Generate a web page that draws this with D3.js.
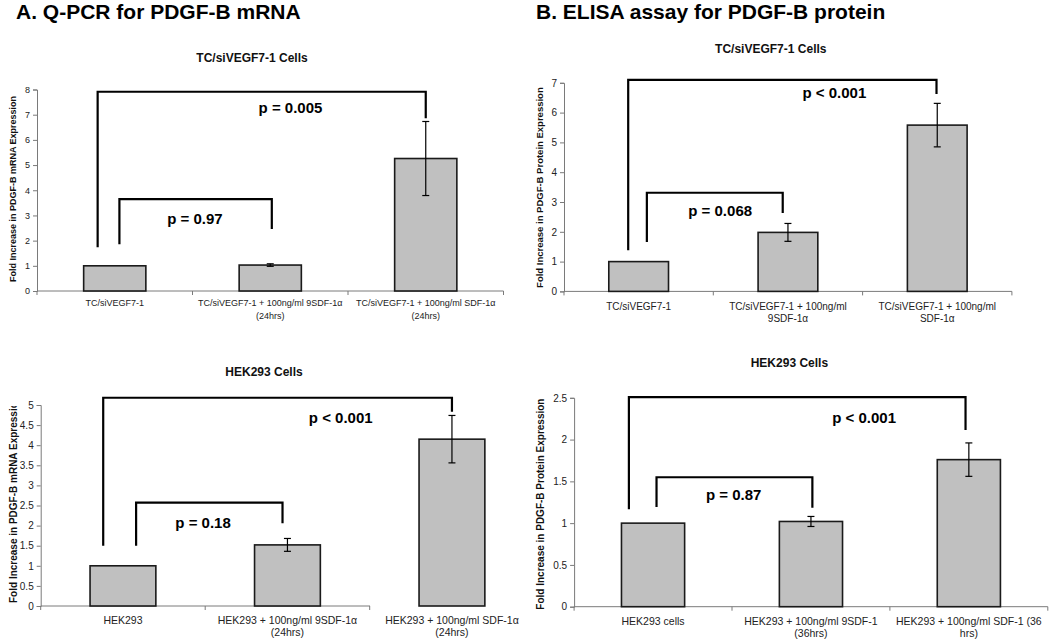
<!DOCTYPE html>
<html><head><meta charset="utf-8">
<script src="https://cdnjs.cloudflare.com/ajax/libs/d3/7.8.5/d3.min.js"></script>
<style>
html,body{margin:0;padding:0;background:#fff;}
svg{display:block;font-family:"Liberation Sans",Arial,Helvetica,sans-serif;}
</style></head>
<body>
<svg id="chart" width="1050" height="639"></svg>
<script>
// ---------- DATA ----------
const panelTitles = ["A. Q-PCR for PDGF-B mRNA", "B. ELISA assay for PDGF-B protein"];

const subtitleA1 = "TC/siVEGF7-1 Cells";
const categoriesA1 = ["TC/siVEGF7-1", "TC/siVEGF7-1 + 100ng/ml 9SDF-1α\n(24hrs)", "TC/siVEGF7-1 + 100ng/ml SDF-1α\n(24hrs)"];
const valuesA1 = [1.00, 1.03, 5.26];
const errorsA1 = [0, 0.05, 1.47];
const yTicksA1 = [0, 1, 2, 3, 4, 5, 6, 7, 8];
const yLabelA1 = "Fold Increase in PDGF-B mRNA Expression";
const pLabelsA1 = ["p = 0.005", "p = 0.97"];

const subtitleA2 = "HEK293 Cells";
const categoriesA2 = ["HEK293", "HEK293 + 100ng/ml 9SDF-1α\n(24hrs)", "HEK293 + 100ng/ml SDF-1α\n(24hrs)"];
const valuesA2 = [1.00, 1.52, 4.15];
const errorsA2 = [0, 0.16, 0.59];
const yTicksA2 = [0, 0.5, 1, 1.5, 2, 2.5, 3, 3.5, 4, 4.5, 5];
const yLabelA2 = "Fold Increase in PDGF-B mRNA Expression";
const pLabelsA2 = ["p < 0.001", "p = 0.18"];

const subtitleB1 = "TC/siVEGF7-1 Cells";
const categoriesB1 = ["TC/siVEGF7-1", "TC/siVEGF7-1 + 100ng/ml\n9SDF-1α", "TC/siVEGF7-1 + 100ng/ml\nSDF-1α"];
const valuesB1 = [1.00, 1.98, 5.58];
const errorsB1 = [0, 0.30, 0.73];
const yTicksB1 = [0, 1, 2, 3, 4, 5, 6, 7];
const yLabelB1 = "Fold Increase in PDGF-B Protein Expression";
const pLabelsB1 = ["p < 0.001", "p = 0.068"];

const subtitleB2 = "HEK293 Cells";
const categoriesB2 = ["HEK293 cells", "HEK293 + 100ng/ml 9SDF-1\n(36hrs)", "HEK293 + 100ng/ml SDF-1 (36\nhrs)"];
const valuesB2 = [1.00, 1.02, 1.76];
const errorsB2 = [0, 0.06, 0.20];
const yTicksB2 = [0, 0.5, 1, 1.5, 2, 2.5];
const yLabelB2 = "Fold Increase in PDGF-B Protein Expression";
const pLabelsB2 = ["p < 0.001", "p = 0.87"];

// significance brackets: [xLeft, xRight, yTop, yLeftEnd, yRightEnd] in (category units, value units)
const bracketsA1 = [[0.39, 2.50, 7.91, 1.74, 6.86], [0.53, 1.51, 3.65, 1.86, 2.46]];
const bracketsA2 = [[0.38, 2.50, 5.18, 1.50, 4.83], [0.58, 1.47, 2.57, 1.50, 2.06]];
const bracketsB1 = [[0.43, 2.495, 7.10, 1.38, 6.62], [0.555, 1.465, 3.31, 1.66, 2.63]];
const bracketsB2 = [[0.347, 2.479, 2.507, 1.165, 2.115], [0.522, 1.509, 1.549, 1.193, 1.185]];
// p-label positions [x in category units, y in value units]
const pPosA1 = [[1.63, 7.29], [1.016, 2.85]];
const pPosA2 = [[1.824, 4.68], [0.987, 2.06]];
const pPosB1 = [[1.811, 6.68], [1.046, 2.72]];
const pPosB2 = [[1.837, 2.257], [1.011, 1.338]];

// ---------- DRAW ----------
const svg = d3.select("#chart");

svg.append("text").attr("x", 16).attr("y", 19).attr("font-size", 21).attr("font-weight", "bold").attr("fill", "#000").text(panelTitles[0]);
svg.append("text").attr("x", 536).attr("y", 19).attr("font-size", 21).attr("font-weight", "bold").attr("fill", "#000").text(panelTitles[1]);

function drawPanel(c) {
  const g = svg.append("g");
  const n = c.cats.length;
  const x = d3.scaleBand().domain(d3.range(n)).range([c.x0, c.x1]).paddingInner(0.6).paddingOuter(0.3);
  const xc = d3.scaleLinear().domain([0, n]).range([c.x0, c.x1]);
  const yMax = c.ticks[c.ticks.length - 1];
  const y = d3.scaleLinear().domain([0, yMax]).range([c.y0, c.yTop]);

  // subtitle
  g.append("text").attr("x", c.subX).attr("y", c.subY).attr("dy", "0.35em").attr("text-anchor", "middle")
    .attr("font-size", 12).attr("font-weight", "bold").attr("fill", "#111").text(c.sub);

  // y axis
  const yAxis = d3.axisLeft(y).tickValues(c.ticks).tickSize(4).tickPadding(3).tickFormat(d3.format("~g"));
  const ya = g.append("g").attr("transform", `translate(${c.x0},0)`).call(yAxis);
  ya.select(".domain").attr("stroke", "#7a7a7a");
  ya.selectAll(".tick line").attr("stroke", "#7a7a7a");
  ya.selectAll(".tick text").attr("font-size", c.tickFs).attr("fill", "#222").attr("font-family", "Liberation Sans, Arial, sans-serif");

  // x axis line with ticks at band boundaries
  const xEndLine = c.xLineEnd != null ? c.xLineEnd : c.x1;
  g.append("line").attr("x1", c.x0).attr("x2", xEndLine).attr("y1", c.y0).attr("y2", c.y0).attr("stroke", "#7a7a7a");
  const bounds = d3.range(0, n + 1).filter(i => xc(i) <= xEndLine + 0.5);
  g.selectAll(".xt").data(bounds).join("line")
    .attr("x1", d => xc(d)).attr("x2", d => xc(d)).attr("y1", c.y0).attr("y2", c.y0 + 4).attr("stroke", "#7a7a7a");

  // x labels
  c.cats.forEach((lab, i) => {
    const t = g.append("text").attr("text-anchor", "middle").attr("font-size", c.xFs).attr("fill", "#222");
    lab.split("\n").forEach((ln, k) => {
      t.append("tspan").attr("x", x(i) + x.bandwidth() / 2).attr("y", c.y0 + c.xLabDy + k * c.xLabLh).attr("dy", "0.35em").text(ln);
    });
  });

  // bars
  g.selectAll(".bar").data(c.vals).join("rect")
    .attr("x", (d, i) => x(i)).attr("width", x.bandwidth())
    .attr("y", d => y(d)).attr("height", d => c.y0 - y(d))
    .attr("fill", "#c0c0c0").attr("stroke", "#1a1a1a").attr("stroke-width", 1.6);

  // error bars
  c.vals.forEach((v, i) => {
    const e = c.errs[i];
    if (!e) return;
    const cx = x(i) + x.bandwidth() / 2;
    g.append("line").attr("x1", cx).attr("x2", cx).attr("y1", y(v + e)).attr("y2", y(v - e)).attr("stroke", "#000").attr("stroke-width", 1.2);
    [v + e, v - e].forEach(w => {
      g.append("line").attr("x1", cx - 3.5).attr("x2", cx + 3.5).attr("y1", y(w)).attr("y2", y(w)).attr("stroke", "#000").attr("stroke-width", 1.2);
    });
  });

  // brackets
  c.brackets.forEach(b => {
    const path = d3.path();
    path.moveTo(xc(b[0]), y(b[3]));
    path.lineTo(xc(b[0]), y(b[2]));
    path.lineTo(xc(b[1]), y(b[2]));
    path.lineTo(xc(b[1]), y(b[4]));
    g.append("path").attr("d", path.toString()).attr("fill", "none").attr("stroke", "#000").attr("stroke-width", 2.2);
  });

  // p labels
  c.pLabels.forEach((p, i) => {
    g.append("text").attr("x", xc(c.pPos[i][0])).attr("y", y(c.pPos[i][1])).attr("dy", "0.35em")
      .attr("text-anchor", "middle").attr("font-size", 15).attr("font-weight", "bold").attr("fill", "#000").text(p);
  });

  // y label
  const clipId = "clip" + Math.round(c.x0);
  svg.append("clipPath").attr("id", clipId).append("rect").attr("x", c.ylX - 20).attr("y", c.ylClipTop).attr("width", 40).attr("height", 639 - c.ylClipTop);
  const yl = g.append("g").attr("clip-path", `url(#${clipId})`);
  yl.append("text").attr("transform", `translate(${c.ylX},${c.ylY}) rotate(-90)`)
    .attr("text-anchor", c.ylAnchor).attr("dy", "0.35em").attr("font-size", c.ylFs).attr("font-weight", "bold").attr("fill", "#111").text(c.yl);
}

drawPanel({cats: categoriesA1, vals: valuesA1, errs: errorsA1, ticks: yTicksA1, sub: subtitleA1, yl: yLabelA1,
  brackets: bracketsA1, pLabels: pLabelsA1, pPos: pPosA1,
  x0: 37, x1: 503.5, y0: 291, yTop: 89.5, subX: 252, subY: 58, tickFs: 9, xFs: 9, xLabDy: 12, xLabLh: 12.5,
  ylX: 13, ylY: 189, ylAnchor: "middle", ylFs: 9, ylClipTop: 0});

drawPanel({cats: categoriesA2, vals: valuesA2, errs: errorsA2, ticks: yTicksA2, sub: subtitleA2, yl: yLabelA2,
  brackets: bracketsA2, pLabels: pLabelsA2, pPos: pPosA2,
  x0: 40.7, x1: 534.2, xLineEnd: 370, y0: 606, yTop: 405, subX: 264, subY: 372, tickFs: 10, xFs: 10.5, xLabDy: 14, xLabLh: 12.5,
  ylX: 13, ylY: 603, ylAnchor: "start", ylFs: 10, ylClipTop: 406});

drawPanel({cats: categoriesB1, vals: valuesB1, errs: errorsB1, ticks: yTicksB1, sub: subtitleB1, yl: yLabelB1,
  brackets: bracketsB1, pLabels: pLabelsB1, pPos: pPosB1,
  x0: 564, x1: 1011.9, y0: 291.4, yTop: 82.8, subX: 770.8, subY: 48.3, tickFs: 10, xFs: 10, xLabDy: 14.6, xLabLh: 12.8,
  ylX: 539.5, ylY: 187.6, ylAnchor: "middle", ylFs: 9.5, ylClipTop: 0});

drawPanel({cats: categoriesB2, vals: valuesB2, errs: errorsB2, ticks: yTicksB2, sub: subtitleB2, yl: yLabelB2,
  brackets: bracketsB2, pLabels: pLabelsB2, pPos: pPosB2,
  x0: 574.1, x1: 1047.8, y0: 606.7, yTop: 397.8, subX: 789.4, subY: 362.9, tickFs: 10, xFs: 10.5, xLabDy: 14.5, xLabLh: 11.8,
  ylX: 540.3, ylY: 609.7, ylAnchor: "start", ylFs: 10, ylClipTop: 393});
</script>
</body></html>
